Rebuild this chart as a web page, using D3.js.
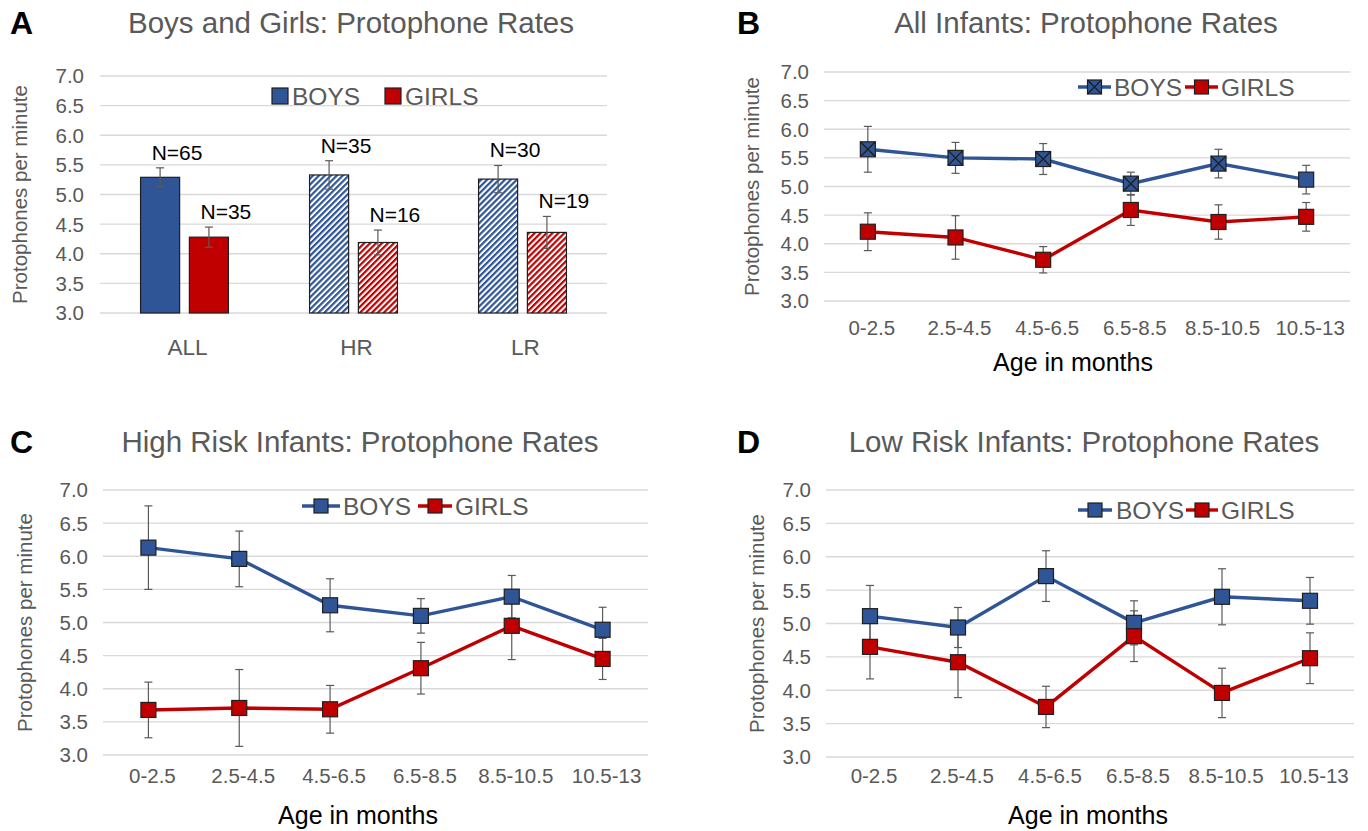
<!DOCTYPE html>
<html>
<head>
<meta charset="utf-8">
<script src="https://cdn.jsdelivr.net/npm/d3@7"></script>
<style>
  html, body { margin: 0; padding: 0; background: #fff; }
  svg { display: block; font-family: "Liberation Sans", Arial, sans-serif; }
</style>
</head>
<body>
<svg id="chart" width="1368" height="831"></svg>
<script>
// ---------- DATA ----------
const barGroups = ["ALL", "HR", "LR"];
const barBoys = [5.29, 5.33, 5.26];
const barBoysErr = [0.16, 0.24, 0.23];
const barGirls = [4.28, 4.19, 4.36];
const barGirlsErr = [0.17, 0.21, 0.27];
const barBoysN = ["N=65", "N=35", "N=30"];
const barGirlsN = ["N=35", "N=16", "N=19"];

const ageGroups = ["0-2.5", "2.5-4.5", "4.5-6.5", "6.5-8.5", "8.5-10.5", "10.5-13"];

const allBoys = [5.65, 5.50, 5.48, 5.05, 5.40, 5.12];
const allBoysErr = [0.40, 0.27, 0.27, 0.20, 0.25, 0.25];
const allGirls = [4.21, 4.11, 3.72, 4.59, 4.38, 4.47];
const allGirlsErr = [0.33, 0.38, 0.23, 0.27, 0.30, 0.25];
const allBoysMarker = ["xsquare", "xsquare", "xsquare", "xsquare", "xsquare", "square"];

const hrBoys = [6.13, 5.96, 5.26, 5.10, 5.39, 4.89];
const hrBoysErr = [0.63, 0.42, 0.40, 0.26, 0.32, 0.34];
const hrGirls = [3.68, 3.71, 3.69, 4.31, 4.95, 4.45];
const hrGirlsErr = [0.42, 0.58, 0.36, 0.39, 0.51, 0.31];

const lrBoys = [5.11, 4.94, 5.71, 5.01, 5.40, 5.34];
const lrBoysErr = [0.46, 0.30, 0.38, 0.33, 0.42, 0.35];
const lrGirls = [4.65, 4.42, 3.75, 4.81, 3.96, 4.48];
const lrGirlsErr = [0.48, 0.53, 0.31, 0.38, 0.37, 0.38];

const yTicks = [3.0, 3.5, 4.0, 4.5, 5.0, 5.5, 6.0, 6.5, 7.0];
const seriesNames = ["BOYS", "GIRLS"];

// ---------- STYLE ----------
const BLUE = "#2F5597", RED = "#C00000", GREY = "#595959", GRID = "#D9D9D9", OUT = "#1f1f1f", ERR = "#5a5a5a";

const svg = d3.select("#chart");
const defs = svg.append("defs");
function hatch(id, color) {
  const p = defs.append("pattern").attr("id", id).attr("patternUnits", "userSpaceOnUse")
    .attr("width", 4.2).attr("height", 4.2).attr("patternTransform", "rotate(45)");
  p.append("rect").attr("width", 4.2).attr("height", 4.2).attr("fill", "#fff");
  p.append("rect").attr("width", 2.2).attr("height", 4.2).attr("fill", color);
}
hatch("hatchBlue", BLUE);
hatch("hatchRed", RED);

function panelLetter(t, x, y) {
  svg.append("text").attr("x", x).attr("y", y).attr("font-size", 32).attr("font-weight", "bold")
    .attr("fill", "#000").text(t);
}
function title(t, x, y) {
  svg.append("text").attr("x", x).attr("y", y).attr("text-anchor", "middle").attr("font-size", 29.5)
    .attr("fill", GREY).text(t);
}
function yAxis(y, x0, x1, labelX, titleX) {
  const g = svg.append("g");
  g.selectAll("line.grid").data(yTicks).join("line")
    .attr("x1", x0).attr("x2", x1).attr("y1", d => y(d)).attr("y2", d => y(d))
    .attr("stroke", GRID).attr("stroke-width", 1.3);
  g.selectAll("text.tick").data(yTicks).join("text")
    .attr("x", labelX).attr("y", d => y(d)).attr("dy", "0.36em").attr("text-anchor", "end")
    .attr("font-size", 20.5).attr("fill", GREY).text(d => d3.format(".1f")(d));
  const ym = (y.range()[0] + y.range()[1]) / 2;
  svg.append("text").attr("transform", `translate(${titleX},${ym}) rotate(-90)`)
    .attr("text-anchor", "middle").attr("dy", "0.35em").attr("font-size", 20.5).attr("fill", GREY)
    .text("Protophones per minute");
}
function errBar(g, x, y, v, e, cap) {
  g.append("line").attr("x1", x).attr("x2", x).attr("y1", y(v - e)).attr("y2", y(v + e))
    .attr("stroke", ERR).attr("stroke-width", 1.2);
  [v - e, v + e].forEach(t => g.append("line").attr("x1", x - cap).attr("x2", x + cap)
    .attr("y1", y(t)).attr("y2", y(t)).attr("stroke", ERR).attr("stroke-width", 1.2));
}
function marker(g, x, y, color, type, s) {
  g.append("rect").attr("x", x - s / 2).attr("y", y - s / 2).attr("width", s).attr("height", s)
    .attr("fill", color).attr("stroke", OUT).attr("stroke-width", 1.2);
  if (type === "xsquare") {
    g.append("path").attr("d", `M${x - s / 2},${y - s / 2}L${x + s / 2},${y + s / 2}M${x + s / 2},${y - s / 2}L${x - s / 2},${y + s / 2}`)
      .attr("stroke", OUT).attr("stroke-width", 1.4);
  }
}

// ---------- PANEL A ----------
(function () {
  const y = d3.scaleLinear().domain([3, 7]).range([313, 76]);
  const x0 = d3.scaleBand().domain(barGroups).range([100, 607]).paddingInner(0.48).paddingOuter(0.24);
  const x1 = d3.scaleBand().domain(seriesNames).range([0, x0.bandwidth()]).paddingInner(0.2);
  panelLetter("A", 10, 34);
  title("Boys and Girls: Protophone Rates", 351, 33);
  yAxis(y, 100, 607, 84, 20);
  const g = svg.append("g");
  const series = [
    { name: "BOYS", vals: barBoys, err: barBoysErr, n: barBoysN, solid: BLUE, hatch: "url(#hatchBlue)" },
    { name: "GIRLS", vals: barGirls, err: barGirlsErr, n: barGirlsN, solid: RED, hatch: "url(#hatchRed)" }
  ];
  series.forEach(s => {
    barGroups.forEach((grp, i) => {
      const bx = x0(grp) + x1(s.name), bw = x1.bandwidth();
      g.append("rect").attr("x", bx).attr("y", y(s.vals[i])).attr("width", bw)
        .attr("height", y(3) - y(s.vals[i]))
        .attr("fill", i === 0 ? s.solid : s.hatch).attr("stroke", OUT).attr("stroke-width", 1.2);
      errBar(g, bx + bw / 2, y, s.vals[i], s.err[i], 4);
      g.append("text").attr("x", bx + bw / 2 + 17).attr("y", y(s.vals[i] + s.err[i]) - 8)
        .attr("text-anchor", "middle").attr("font-size", 21).attr("fill", "#000").text(s.n[i]);
    });
  });
  svg.selectAll("text.cat").data(barGroups).join("text")
    .attr("x", d => x0(d) + x0.bandwidth() / 2 + 3).attr("y", 355).attr("text-anchor", "middle")
    .attr("font-size", 22.5).attr("fill", GREY).text(d => d);
  // legend
  const lg = svg.append("g");
  lg.append("rect").attr("x", 272).attr("y", 88).attr("width", 16).attr("height", 16)
    .attr("fill", BLUE).attr("stroke", OUT).attr("stroke-width", 1.2);
  lg.append("text").attr("x", 292).attr("y", 105).attr("font-size", 24.5).attr("fill", GREY).text(seriesNames[0]);
  lg.append("rect").attr("x", 385).attr("y", 88).attr("width", 16).attr("height", 16)
    .attr("fill", RED).attr("stroke", OUT).attr("stroke-width", 1.2);
  lg.append("text").attr("x", 405).attr("y", 105).attr("font-size", 24.5).attr("fill", GREY).text(seriesNames[1]);
})();

// ---------- LINE PANELS ----------
function linePanel(cfg) {
  const y = d3.scaleLinear().domain([3, 7]).range([cfg.yBottom, cfg.yTop]);
  const x = d3.scalePoint().domain(ageGroups).range([cfg.x0, cfg.x1]).padding(0.5);
  panelLetter(cfg.letter, cfg.letterX, cfg.letterY);
  title(cfg.title, cfg.titleX, cfg.titleY);
  yAxis(y, cfg.x0, cfg.x1, cfg.x0 - 15, cfg.yTitleX);
  svg.selectAll(null).data(ageGroups).join("text")
    .attr("x", d => x(d) + 4).attr("y", cfg.catY).attr("text-anchor", "middle")
    .attr("font-size", 20.5).attr("fill", GREY).text(d => d);
  svg.append("text").attr("x", cfg.xTitleX).attr("y", cfg.xTitleY).attr("text-anchor", "middle")
    .attr("font-size", 25).attr("fill", "#000").text("Age in months");
  const g = svg.append("g");
  const line = d3.line().x((d, i) => x(ageGroups[i])).y(d => y(d));
  const series = [
    { vals: cfg.boys, err: cfg.boysErr, color: BLUE, markers: cfg.boysMarker || ageGroups.map(() => "square") },
    { vals: cfg.girls, err: cfg.girlsErr, color: RED, markers: ageGroups.map(() => "square") }
  ];
  series.forEach(s => s.vals.forEach((v, i) => errBar(g, x(ageGroups[i]), y, v, s.err[i], 4)));
  series.forEach(s => {
    g.append("path").datum(s.vals).attr("d", line).attr("fill", "none")
      .attr("stroke", s.color).attr("stroke-width", 3.4);
  });
  series.forEach(s => s.vals.forEach((v, i) => marker(g, x(ageGroups[i]), y(v), s.color, s.markers[i], 15)));
  // legend
  const L = cfg.legend;
  const lg = svg.append("g");
  [[L.b0, L.b1, BLUE, cfg.legendMarker || "square", L.bt, seriesNames[0]],
   [L.g0, L.g1, RED, "square", L.gt, seriesNames[1]]].forEach(([a, b, c, m, tx, name]) => {
    lg.append("line").attr("x1", a).attr("x2", b).attr("y1", L.y).attr("y2", L.y)
      .attr("stroke", c).attr("stroke-width", 3.4);
    marker(lg, (a + b) / 2, L.y, c, m, 14);
    lg.append("text").attr("x", tx).attr("y", L.y).attr("dy", "0.36em").attr("font-size", 24.5)
      .attr("fill", GREY).text(name);
  });
}

linePanel({
  letter: "B", letterX: 737, letterY: 34, title: "All Infants: Protophone Rates", titleX: 1086, titleY: 33,
  yTop: 72, yBottom: 301, x0: 824, x1: 1350, yTitleX: 752, catY: 335, xTitleX: 1073, xTitleY: 371,
  boys: allBoys, boysErr: allBoysErr, girls: allGirls, girlsErr: allGirlsErr, boysMarker: allBoysMarker,
  legendMarker: "xsquare",
  legend: { y: 87, b0: 1078, b1: 1111, bt: 1114, g0: 1185, g1: 1218, gt: 1221 }
});
linePanel({
  letter: "C", letterX: 10, letterY: 453, title: "High Risk Infants: Protophone Rates", titleX: 360, titleY: 452,
  yTop: 490, yBottom: 755, x0: 103, x1: 648, yTitleX: 25, catY: 783, xTitleX: 358, xTitleY: 824,
  boys: hrBoys, boysErr: hrBoysErr, girls: hrGirls, girlsErr: hrGirlsErr,
  legend: { y: 506, b0: 302, b1: 340, bt: 343, g0: 418, g1: 452, gt: 455 }
});
linePanel({
  letter: "D", letterX: 737, letterY: 453, title: "Low Risk Infants: Protophone Rates", titleX: 1084, titleY: 452,
  yTop: 490, yBottom: 757, x0: 826, x1: 1354, yTitleX: 757, catY: 783, xTitleX: 1088, xTitleY: 824,
  boys: lrBoys, boysErr: lrBoysErr, girls: lrGirls, girlsErr: lrGirlsErr,
  legend: { y: 510, b0: 1078, b1: 1112, bt: 1116, g0: 1186, g1: 1218, gt: 1221 }
});
</script>
</body>
</html>
